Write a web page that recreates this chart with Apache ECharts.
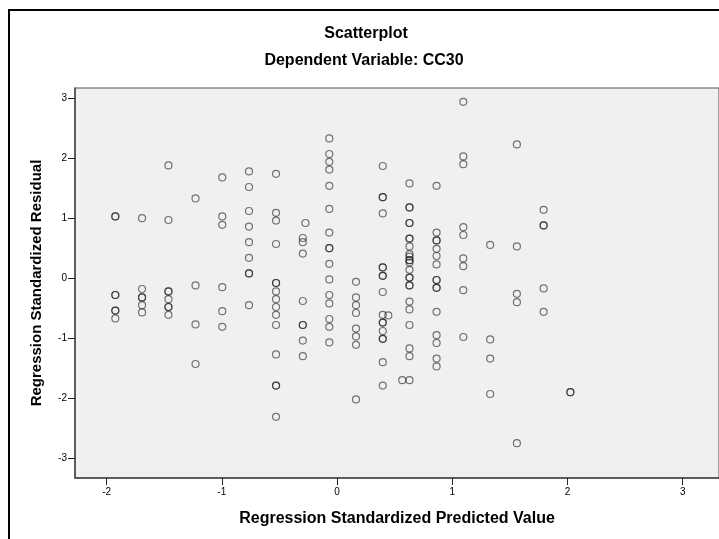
<!DOCTYPE html>
<html>
<head>
<meta charset="utf-8">
<script src="https://cdn.jsdelivr.net/npm/echarts@6.0.0/dist/echarts.min.js"></script>
<style>
  html, body { margin: 0; padding: 0; background: #fff; }
  #chart { width: 719px; height: 539px; }
</style>
</head>
<body>
<div id="chart"></div>
<script>
// predicted value of each column of points
var colX = [-1.924, -1.692, -1.463, -1.228, -0.996, -0.764, -0.529, -0.297, -0.067,
  0.165, 0.397, 0.629, 0.864, 1.096, 1.329, 1.561, 1.793, 2.025];

// residuals (repeats = overlapping cases)
var colResid = [
  [1.03, 1.03, -0.28, -0.28, -0.54, -0.54, -0.67],
  [1.00, -0.18, -0.32, -0.32, -0.45, -0.57],
  [1.88, 0.97, -0.22, -0.22, -0.35, -0.48, -0.48, -0.61],
  [1.33, -0.12, -0.77, -1.43],
  [1.68, 1.03, 0.89, -0.15, -0.55, -0.81],
  [1.78, 1.52, 1.12, 0.86, 0.60, 0.34, 0.08, 0.08, -0.45],
  [1.74, 1.09, 0.96, 0.57, -0.08, -0.08, -0.22, -0.35, -0.48, -0.61, -0.78, -1.27, -1.79, -1.79, -2.31],
  [0.67, 0.60, 0.41, -0.38, -0.78, -0.78, -1.04, -1.30],
  [2.33, 2.07, 1.94, 1.81, 1.54, 1.155, 0.76, 0.50, 0.50, 0.24, -0.02, -0.28, -0.42, -0.68, -0.81, -1.07],
  [-0.06, -0.32, -0.45, -0.58, -0.84, -0.97, -1.11, -2.02],
  [1.87, 1.35, 1.35, 1.08, 0.18, 0.18, 0.04, 0.04, -0.23, -0.61, -0.74, -0.74, -0.88, -1.01, -1.01, -1.40, -1.79],
  [1.58, 1.18, 1.18, 0.92, 0.92, 0.66, 0.66, 0.53, 0.40, 0.36, 0.30, 0.30, 0.26, 0.14, 0.01, 0.01, -0.12, -0.12, -0.39, -0.52, -0.78, -1.17, -1.30, -1.70],
  [1.54, 0.76, 0.63, 0.63, 0.49, 0.37, 0.23, -0.03, -0.03, -0.16, -0.16, -0.56, -0.95, -1.08, -1.34, -1.47],
  [2.94, 2.03, 1.90, 0.85, 0.72, 0.33, 0.20, -0.20, -0.98],
  [0.555, -1.02, -1.34, -1.93],
  [2.23, 0.53, -0.26, -0.40, -2.75],
  [1.14, 0.88, 0.88, -0.17, -0.56],
  [-1.90, -1.90]
];

// a few cases that sit off the columns
var extraX = [-0.274, 0.445, 0.566];
var extraY = [0.92, -0.62, -1.70];

var xTicks = [-2, -1, 0, 1, 2, 3];
var yTicks = [-3, -2, -1, 0, 1, 2, 3];

var points = [];
for (var i = 0; i < colX.length; i++) {
  for (var j = 0; j < colResid[i].length; j++) {
    points.push([colX[i], colResid[i][j]]);
  }
}
for (var k = 0; k < extraX.length; k++) {
  points.push([extraX[k], extraY[k]]);
}

var font = 'Arial, "Liberation Sans", sans-serif';
var myChart = echarts.init(document.getElementById('chart'));
var option = {
  backgroundColor: '#fff',
  animation: false,
  textStyle: { fontFamily: font },
  graphic: [
    {
      type: 'rect',
      shape: { x: 9, y: 10, width: 800, height: 600 },
      style: { fill: 'none', stroke: '#000', lineWidth: 2 }
    },
    {
      type: 'text', x: 366, y: 34,
      style: { text: 'Scatterplot', fill: '#000', font: 'bold 16px ' + font, align: 'center', verticalAlign: 'middle' }
    },
    {
      type: 'text', x: 364, y: 61,
      style: { text: 'Dependent Variable: CC30', fill: '#000', font: 'bold 16px ' + font, align: 'center', verticalAlign: 'middle' }
    }
  ],
  grid: {
    left: 75, top: 88, width: 650, height: 390,
    show: true, backgroundColor: '#f0f0f0', borderColor: '#555', borderWidth: 1
  },
  xAxis: {
    type: 'value',
    min: -2.274, max: 3.315,
    name: 'Regression Standardized Predicted Value',
    nameLocation: 'middle', nameGap: 33,
    nameTextStyle: { color: '#000', fontWeight: 'bold', fontSize: 16, fontFamily: font },
    axisLine: { show: true, onZero: false, lineStyle: { color: '#444', width: 1.5 } },
    axisTick: { show: true, customValues: xTicks, length: 7, lineStyle: { color: '#222' } },
    axisLabel: { customValues: xTicks, color: '#000', fontSize: 10, margin: 9 },
    splitLine: { show: false }
  },
  yAxis: {
    type: 'value',
    min: -3.33, max: 3.17,
    name: 'Regression Standardized Residual',
    nameLocation: 'middle', nameGap: 31,
    nameTextStyle: { color: '#000', fontWeight: 'bold', fontSize: 15, fontFamily: font },
    axisLine: { show: true, onZero: false, lineStyle: { color: '#444', width: 1.5 } },
    axisTick: { show: true, customValues: yTicks, length: 7, lineStyle: { color: '#222' } },
    axisLabel: { customValues: yTicks, color: '#000', fontSize: 10, margin: 8 },
    splitLine: { show: false }
  },
  series: [
    {
      type: 'scatter',
      data: points,
      symbol: 'circle',
      symbolSize: 7,
      silent: true,
      itemStyle: { color: 'rgba(0,0,0,0)', borderColor: 'rgba(20,20,20,0.72)', borderWidth: 1.2 }
    }
  ]
};
myChart.setOption(option);
</script>
</body>
</html>
